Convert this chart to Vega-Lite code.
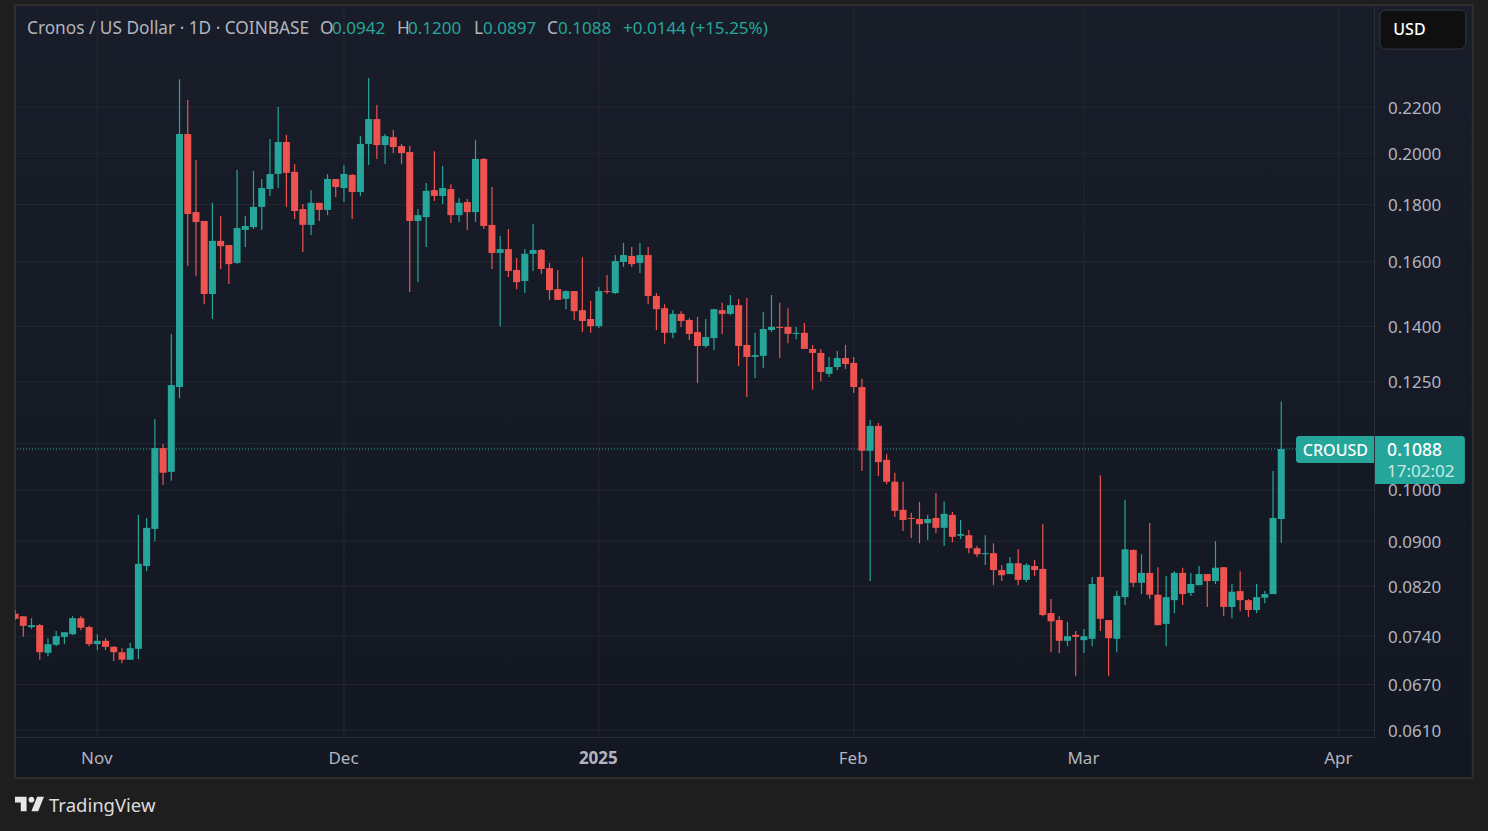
{
"$schema":"https://vega.github.io/schema/vega-lite/v6.json",
"width":1359,"height":731,"autosize":"none",
"padding":{"left":15,"top":6,"right":114,"bottom":94},
"background":"#1e1e1e",
"view":{"stroke":null},
"config":{"text":{"font":"Noto Sans","fontSize":17,"align":"left","baseline":"middle"},"axis":{"title":null}},
"datasets":{
"candles":[
{"date":"2024-10-22","open":0.0775,"high":0.0781,"low":0.0765,"close":0.0767},
{"date":"2024-10-23","open":0.0771,"high":0.0771,"low":0.0739,"close":0.0756},
{"date":"2024-10-24","open":0.0754,"high":0.0768,"low":0.0751,"close":0.0757},
{"date":"2024-10-25","open":0.0757,"high":0.0759,"low":0.0705,"close":0.0716},
{"date":"2024-10-26","open":0.0715,"high":0.0737,"low":0.0710,"close":0.0728},
{"date":"2024-10-27","open":0.0727,"high":0.0748,"low":0.0725,"close":0.0740},
{"date":"2024-10-28","open":0.0739,"high":0.0746,"low":0.0728,"close":0.0746},
{"date":"2024-10-29","open":0.0743,"high":0.0771,"low":0.0742,"close":0.0768},
{"date":"2024-10-30","open":0.0768,"high":0.0771,"low":0.0749,"close":0.0753},
{"date":"2024-10-31","open":0.0754,"high":0.0756,"low":0.0725,"close":0.0728},
{"date":"2024-11-01","open":0.0728,"high":0.0743,"low":0.0719,"close":0.0733},
{"date":"2024-11-02","open":0.0733,"high":0.0737,"low":0.0719,"close":0.0724},
{"date":"2024-11-03","open":0.0724,"high":0.0725,"low":0.0703,"close":0.0716},
{"date":"2024-11-04","open":0.0716,"high":0.0722,"low":0.0700,"close":0.0705},
{"date":"2024-11-05","open":0.0705,"high":0.0730,"low":0.0705,"close":0.0722},
{"date":"2024-11-06","open":0.0721,"high":0.0950,"low":0.0706,"close":0.0859},
{"date":"2024-11-07","open":0.0855,"high":0.0944,"low":0.0846,"close":0.0925},
{"date":"2024-11-08","open":0.0923,"high":0.1157,"low":0.0900,"close":0.1090},
{"date":"2024-11-09","open":0.1090,"high":0.1099,"low":0.1010,"close":0.1036},
{"date":"2024-11-10","open":0.1038,"high":0.1379,"low":0.1019,"close":0.1241},
{"date":"2024-11-11","open":0.1236,"high":0.2330,"low":0.1208,"close":0.2081},
{"date":"2024-11-12","open":0.2081,"high":0.2232,"low":0.1586,"close":0.1765},
{"date":"2024-11-13","open":0.1772,"high":0.1973,"low":0.1553,"close":0.1736},
{"date":"2024-11-14","open":0.1740,"high":0.1740,"low":0.1466,"close":0.1497},
{"date":"2024-11-15","open":0.1497,"high":0.1806,"low":0.1422,"close":0.1670},
{"date":"2024-11-16","open":0.1670,"high":0.1758,"low":0.1576,"close":0.1652},
{"date":"2024-11-17","open":0.1656,"high":0.1656,"low":0.1528,"close":0.1592},
{"date":"2024-11-18","open":0.1596,"high":0.1932,"low":0.1592,"close":0.1715},
{"date":"2024-11-19","open":0.1708,"high":0.1758,"low":0.1649,"close":0.1722},
{"date":"2024-11-20","open":0.1718,"high":0.1929,"low":0.1711,"close":0.1791},
{"date":"2024-11-21","open":0.1791,"high":0.1897,"low":0.1708,"close":0.1862},
{"date":"2024-11-22","open":0.1858,"high":0.2060,"low":0.1832,"close":0.1917},
{"date":"2024-11-23","open":0.1917,"high":0.2200,"low":0.1862,"close":0.2047},
{"date":"2024-11-24","open":0.2047,"high":0.2077,"low":0.1791,"close":0.1921},
{"date":"2024-11-25","open":0.1925,"high":0.1956,"low":0.1747,"close":0.1776},
{"date":"2024-11-26","open":0.1783,"high":0.1802,"low":0.1632,"close":0.1726},
{"date":"2024-11-27","open":0.1726,"high":0.1854,"low":0.1690,"close":0.1806},
{"date":"2024-11-28","open":0.1806,"high":0.1806,"low":0.1740,"close":0.1780},
{"date":"2024-11-29","open":0.1780,"high":0.1917,"low":0.1761,"close":0.1897},
{"date":"2024-11-30","open":0.1897,"high":0.1897,"low":0.1828,"close":0.1866},
{"date":"2024-12-01","open":0.1862,"high":0.1952,"low":0.1809,"close":0.1917},
{"date":"2024-12-02","open":0.1913,"high":0.1917,"low":0.1747,"close":0.1847},
{"date":"2024-12-03","open":0.1847,"high":0.2072,"low":0.1832,"close":0.2039},
{"date":"2024-12-04","open":0.2039,"high":0.2335,"low":0.1952,"close":0.2146},
{"date":"2024-12-05","open":0.2146,"high":0.2209,"low":0.1977,"close":0.2034},
{"date":"2024-12-06","open":0.2034,"high":0.2081,"low":0.1956,"close":0.2072},
{"date":"2024-12-07","open":0.2068,"high":0.2098,"low":0.2001,"close":0.2026},
{"date":"2024-12-08","open":0.2030,"high":0.2039,"low":0.1956,"close":0.2001},
{"date":"2024-12-09","open":0.2005,"high":0.2030,"low":0.1503,"close":0.1740},
{"date":"2024-12-10","open":0.1740,"high":0.1783,"low":0.1534,"close":0.1761},
{"date":"2024-12-11","open":0.1754,"high":0.1881,"low":0.1649,"close":0.1851},
{"date":"2024-12-12","open":0.1854,"high":0.2009,"low":0.1813,"close":0.1832},
{"date":"2024-12-13","open":0.1832,"high":0.1948,"low":0.1802,"close":0.1862},
{"date":"2024-12-14","open":0.1858,"high":0.1877,"low":0.1733,"close":0.1761},
{"date":"2024-12-15","open":0.1761,"high":0.1824,"low":0.1736,"close":0.1806},
{"date":"2024-12-16","open":0.1809,"high":0.1820,"low":0.1708,"close":0.1772},
{"date":"2024-12-17","open":0.1772,"high":0.2056,"low":0.1736,"close":0.1977},
{"date":"2024-12-18","open":0.1977,"high":0.1981,"low":0.1711,"close":0.1722},
{"date":"2024-12-19","open":0.1726,"high":0.1866,"low":0.1576,"close":0.1629},
{"date":"2024-12-20","open":0.1629,"high":0.1687,"low":0.1401,"close":0.1642},
{"date":"2024-12-21","open":0.1642,"high":0.1711,"low":0.1550,"close":0.1570},
{"date":"2024-12-22","open":0.1573,"high":0.1612,"low":0.1512,"close":0.1534},
{"date":"2024-12-23","open":0.1538,"high":0.1642,"low":0.1500,"close":0.1626},
{"date":"2024-12-24","open":0.1626,"high":0.1729,"low":0.1570,"close":0.1639},
{"date":"2024-12-25","open":0.1639,"high":0.1642,"low":0.1560,"close":0.1576},
{"date":"2024-12-26","open":0.1579,"high":0.1596,"low":0.1479,"close":0.1509},
{"date":"2024-12-27","open":0.1512,"high":0.1573,"low":0.1479,"close":0.1479},
{"date":"2024-12-28","open":0.1482,"high":0.1509,"low":0.1451,"close":0.1506},
{"date":"2024-12-29","open":0.1506,"high":0.1506,"low":0.1419,"close":0.1445},
{"date":"2024-12-30","open":0.1448,"high":0.1615,"low":0.1384,"close":0.1416},
{"date":"2024-12-31","open":0.1422,"high":0.1476,"low":0.1382,"close":0.1401},
{"date":"2025-01-01","open":0.1401,"high":0.1519,"low":0.1396,"close":0.1506},
{"date":"2025-01-02","open":0.1506,"high":0.1557,"low":0.1497,"close":0.1503},
{"date":"2025-01-03","open":0.1500,"high":0.1622,"low":0.1497,"close":0.1602},
{"date":"2025-01-04","open":0.1599,"high":0.1663,"low":0.1583,"close":0.1622},
{"date":"2025-01-05","open":0.1619,"high":0.1649,"low":0.1583,"close":0.1592},
{"date":"2025-01-06","open":0.1596,"high":0.1663,"low":0.1563,"close":0.1622},
{"date":"2025-01-07","open":0.1622,"high":0.1649,"low":0.1466,"close":0.1491},
{"date":"2025-01-08","open":0.1491,"high":0.1500,"low":0.1390,"close":0.1451},
{"date":"2025-01-09","open":0.1454,"high":0.1466,"low":0.1351,"close":0.1382},
{"date":"2025-01-10","open":0.1382,"high":0.1448,"low":0.1367,"close":0.1437},
{"date":"2025-01-11","open":0.1437,"high":0.1445,"low":0.1399,"close":0.1416},
{"date":"2025-01-12","open":0.1419,"high":0.1425,"low":0.1362,"close":0.1379},
{"date":"2025-01-13","open":0.1384,"high":0.1428,"low":0.1246,"close":0.1345},
{"date":"2025-01-14","open":0.1345,"high":0.1422,"low":0.1340,"close":0.1370},
{"date":"2025-01-15","open":0.1367,"high":0.1451,"low":0.1334,"close":0.1451},
{"date":"2025-01-16","open":0.1448,"high":0.1470,"low":0.1379,"close":0.1437},
{"date":"2025-01-17","open":0.1437,"high":0.1494,"low":0.1434,"close":0.1463},
{"date":"2025-01-18","open":0.1463,"high":0.1482,"low":0.1291,"close":0.1345},
{"date":"2025-01-19","open":0.1348,"high":0.1485,"low":0.1211,"close":0.1315},
{"date":"2025-01-20","open":0.1315,"high":0.1382,"low":0.1259,"close":0.1320},
{"date":"2025-01-21","open":0.1318,"high":0.1443,"low":0.1285,"close":0.1393},
{"date":"2025-01-22","open":0.1390,"high":0.1494,"low":0.1384,"close":0.1399},
{"date":"2025-01-23","open":0.1399,"high":0.1470,"low":0.1312,"close":0.1396},
{"date":"2025-01-24","open":0.1399,"high":0.1454,"low":0.1353,"close":0.1379},
{"date":"2025-01-25","open":0.1379,"high":0.1399,"low":0.1364,"close":0.1382},
{"date":"2025-01-26","open":0.1382,"high":0.1410,"low":0.1337,"close":0.1337},
{"date":"2025-01-27","open":0.1337,"high":0.1348,"low":0.1229,"close":0.1326},
{"date":"2025-01-28","open":0.1326,"high":0.1337,"low":0.1251,"close":0.1275},
{"date":"2025-01-29","open":0.1270,"high":0.1315,"low":0.1262,"close":0.1288},
{"date":"2025-01-30","open":0.1288,"high":0.1331,"low":0.1280,"close":0.1312},
{"date":"2025-01-31","open":0.1312,"high":0.1348,"low":0.1283,"close":0.1296},
{"date":"2025-02-01","open":0.1299,"high":0.1315,"low":0.1221,"close":0.1236},
{"date":"2025-02-02","open":0.1236,"high":0.1257,"low":0.1040,"close":0.1084},
{"date":"2025-02-03","open":0.1084,"high":0.1155,"low":0.0829,"close":0.1141},
{"date":"2025-02-04","open":0.1141,"high":0.1148,"low":0.1029,"close":0.1059},
{"date":"2025-02-05","open":0.1064,"high":0.1077,"low":0.1012,"close":0.1017},
{"date":"2025-02-06","open":0.1017,"high":0.1036,"low":0.0946,"close":0.0958},
{"date":"2025-02-07","open":0.0960,"high":0.1017,"low":0.0919,"close":0.0940},
{"date":"2025-02-08","open":0.0944,"high":0.0954,"low":0.0906,"close":0.0942},
{"date":"2025-02-09","open":0.0942,"high":0.0976,"low":0.0896,"close":0.0932},
{"date":"2025-02-10","open":0.0934,"high":0.0950,"low":0.0902,"close":0.0942},
{"date":"2025-02-11","open":0.0944,"high":0.0994,"low":0.0915,"close":0.0925},
{"date":"2025-02-12","open":0.0925,"high":0.0976,"low":0.0891,"close":0.0952},
{"date":"2025-02-13","open":0.0950,"high":0.0956,"low":0.0898,"close":0.0908},
{"date":"2025-02-14","open":0.0910,"high":0.0940,"low":0.0904,"close":0.0913},
{"date":"2025-02-15","open":0.0911,"high":0.0921,"low":0.0878,"close":0.0887},
{"date":"2025-02-16","open":0.0887,"high":0.0891,"low":0.0871,"close":0.0876},
{"date":"2025-02-17","open":0.0876,"high":0.0911,"low":0.0857,"close":0.0878},
{"date":"2025-02-18","open":0.0878,"high":0.0896,"low":0.0822,"close":0.0848},
{"date":"2025-02-19","open":0.0848,"high":0.0857,"low":0.0829,"close":0.0839},
{"date":"2025-02-20","open":0.0841,"high":0.0871,"low":0.0841,"close":0.0860},
{"date":"2025-02-21","open":0.0860,"high":0.0885,"low":0.0822,"close":0.0831},
{"date":"2025-02-22","open":0.0831,"high":0.0860,"low":0.0827,"close":0.0857},
{"date":"2025-02-23","open":0.0855,"high":0.0866,"low":0.0838,"close":0.0848},
{"date":"2025-02-24","open":0.0850,"high":0.0932,"low":0.0771,"close":0.0773},
{"date":"2025-02-25","open":0.0776,"high":0.0799,"low":0.0716,"close":0.0763},
{"date":"2025-02-26","open":0.0765,"high":0.0771,"low":0.0715,"close":0.0733},
{"date":"2025-02-27","open":0.0733,"high":0.0762,"low":0.0725,"close":0.0740},
{"date":"2025-02-28","open":0.0742,"high":0.0748,"low":0.0682,"close":0.0739},
{"date":"2025-03-01","open":0.0734,"high":0.0751,"low":0.0715,"close":0.0740},
{"date":"2025-03-02","open":0.0736,"high":0.0836,"low":0.0725,"close":0.0824},
{"date":"2025-03-03","open":0.0836,"high":0.1031,"low":0.0748,"close":0.0767},
{"date":"2025-03-04","open":0.0765,"high":0.0765,"low":0.0682,"close":0.0737},
{"date":"2025-03-05","open":0.0736,"high":0.0812,"low":0.0716,"close":0.0804},
{"date":"2025-03-06","open":0.0802,"high":0.0980,"low":0.0789,"close":0.0885},
{"date":"2025-03-07","open":0.0884,"high":0.0884,"low":0.0819,"close":0.0826},
{"date":"2025-03-08","open":0.0826,"high":0.0876,"low":0.0807,"close":0.0843},
{"date":"2025-03-09","open":0.0843,"high":0.0934,"low":0.0799,"close":0.0806},
{"date":"2025-03-10","open":0.0806,"high":0.0853,"low":0.0757,"close":0.0757},
{"date":"2025-03-11","open":0.0759,"high":0.0838,"low":0.0725,"close":0.0802},
{"date":"2025-03-12","open":0.0797,"high":0.0846,"low":0.0776,"close":0.0843},
{"date":"2025-03-13","open":0.0843,"high":0.0852,"low":0.0789,"close":0.0807},
{"date":"2025-03-14","open":0.0809,"high":0.0843,"low":0.0804,"close":0.0824},
{"date":"2025-03-15","open":0.0822,"high":0.0855,"low":0.0822,"close":0.0841},
{"date":"2025-03-16","open":0.0841,"high":0.0841,"low":0.0786,"close":0.0829},
{"date":"2025-03-17","open":0.0829,"high":0.0900,"low":0.0824,"close":0.0852},
{"date":"2025-03-18","open":0.0853,"high":0.0853,"low":0.0771,"close":0.0786},
{"date":"2025-03-19","open":0.0786,"high":0.0824,"low":0.0768,"close":0.0811},
{"date":"2025-03-20","open":0.0812,"high":0.0846,"low":0.0779,"close":0.0797},
{"date":"2025-03-21","open":0.0797,"high":0.0799,"low":0.0770,"close":0.0781},
{"date":"2025-03-22","open":0.0781,"high":0.0824,"low":0.0776,"close":0.0802},
{"date":"2025-03-23","open":0.0801,"high":0.0812,"low":0.0792,"close":0.0807},
{"date":"2025-03-24","open":0.0807,"high":0.1040,"low":0.0807,"close":0.0944},
{"date":"2025-03-25","open":0.0942,"high":0.1200,"low":0.0897,"close":0.1088}
],
"gridPrices":[{"price":0.22},{"price":0.2},{"price":0.18},{"price":0.16},{"price":0.14},{"price":0.125},{"price":0.11},{"price":0.1},{"price":0.09},{"price":0.082},{"price":0.074},{"price":0.067},{"price":0.061}],
"gridDates":[{"date":"2024-11-01"},{"date":"2024-12-01"},{"date":"2025-01-01"},{"date":"2025-02-01"},{"date":"2025-03-01"},{"date":"2025-04-01"}],
"headerGrey":[
{"label":"Cronos / US Dollar · 1D · COINBASE","date":"2024-10-23T10:48:00Z","price":0.2583},
{"label":"O","date":"2024-11-28T02:00:00Z","price":0.2583},
{"label":"H","date":"2024-12-07T11:00:00Z","price":0.2583},
{"label":"L","date":"2024-12-16T19:30:00Z","price":0.2583},
{"label":"C","date":"2024-12-25T16:30:00Z","price":0.2583}
],
"headerTeal":[
{"label":"0.0942","date":"2024-11-29T13:00:00Z","price":0.2583},
{"label":"0.1200","date":"2024-12-08T19:00:00Z","price":0.2583},
{"label":"0.0897","date":"2024-12-17T22:00:00Z","price":0.2583},
{"label":"0.1088","date":"2024-12-27T00:40:00Z","price":0.2583},
{"label":"+0.0144 (+15.25%)","date":"2025-01-03T22:30:00Z","price":0.2583}
],
"whiteText":[
{"label":"0.1088","date":"2025-04-06T21:00:00Z","price":0.1084}
],
"tagText":[
{"label":"USD","date":"2025-04-07T15:00:00Z","price":0.2578},
{"label":"CROUSD","date":"2025-03-27T15:00:00Z","price":0.1084}
]
},
"layer":[
{"data":{"values":[{"date":"2024-10-21T23:46:00Z","date2":"2025-04-17T07:00:00Z","price":0.2714,"price2":0.05526}]},
 "mark":{"type":"rect","stroke":"#2e2e2e","strokeWidth":2,"color":{"gradient":"linear","x1":0,"y1":0,"x2":0,"y2":1,"stops":[{"offset":0,"color":"#191d29"},{"offset":1,"color":"#131722"}]}},
 "encoding":{
  "x":{"field":"date","type":"temporal","scale":{"type":"utc","padding":0,"domain":[{"year":2024,"month":10,"date":21,"hours":23,"minutes":46,"utc":true},{"year":2025,"month":4,"date":5,"hours":6,"minutes":43,"utc":true}]}},
  "x2":{"field":"date2"},
  "y":{"field":"price","type":"quantitative","scale":{"type":"log","domain":[0.06013,0.27087],"nice":false,"zero":false}},
  "y2":{"field":"price2"}}},
{"data":{"name":"gridPrices"},"mark":{"type":"rule","color":"#242833","strokeWidth":1},
 "encoding":{"y":{"field":"price","type":"quantitative"}}},
{"data":{"name":"gridDates"},"mark":{"type":"rule","color":"#242833","strokeWidth":1},
 "encoding":{"x":{"field":"date","type":"temporal"}}},
{"data":{"values":[{"price":0.1088}]},"mark":{"type":"rule","color":"#26a69a","strokeWidth":1,"strokeDash":[1,2]},
 "encoding":{"y":{"field":"price","type":"quantitative"}}},
{"data":{"name":"candles"},"mark":{"type":"rule","strokeWidth":1.2,"clip":true},
 "encoding":{
  "x":{"field":"date","type":"temporal",
   "axis":{"title":null,"orient":"bottom","zindex":1,"grid":false,"tickSize":0,"domainColor":"#2a2e39","domainWidth":1,"labelPadding":13,"labelOffset":-1,
    "labelFont":"Noto Sans","labelFontSize":17,"labelColor":"#b2b5be","labelOverlap":false,"labelBound":false,
    "values":[{"year":2024,"month":11,"date":1,"utc":true},{"year":2024,"month":12,"date":1,"utc":true},{"year":2025,"month":1,"date":1,"utc":true},{"year":2025,"month":2,"date":1,"utc":true},{"year":2025,"month":3,"date":1,"utc":true},{"year":2025,"month":4,"date":1,"utc":true}],
    "labelExpr":"utcmonth(datum.value)==0 ? utcFormat(datum.value,'%Y') : utcFormat(datum.value,'%b')",
    "labelFontWeight":{"condition":{"test":"utcmonth(datum.value)==0","value":"bold"},"value":"normal"}}},
  "y":{"field":"low","type":"quantitative",
   "axis":{"title":null,"orient":"right","zindex":1,"grid":false,"tickSize":0,"domainColor":"#2a2e39","domainWidth":1,"labelPadding":13.5,"labelOffset":1,
    "labelFont":"Noto Sans","labelFontSize":17,"labelColor":"#b2b5be","labelOverlap":false,"labelBound":false,"format":".4f",
    "values":[0.22,0.2,0.18,0.16,0.14,0.125,0.1,0.09,0.082,0.074,0.067,0.061]}},
  "y2":{"field":"high"},
  "color":{"condition":{"test":"datum.close >= datum.open","value":"#26a69a"},"value":"#ef5350"}}},
{"data":{"name":"candles"},"mark":{"type":"bar","width":7,"clip":true},
 "encoding":{
  "x":{"field":"date","type":"temporal"},
  "y":{"field":"open","type":"quantitative"},
  "y2":{"field":"close"},
  "color":{"condition":{"test":"datum.close >= datum.open","value":"#26a69a"},"value":"#ef5350"}}},
{"data":{"values":[{"date":"2025-04-06T00:00:00Z","date2":"2025-04-16T11:00:00Z","price":0.2686,"price2":0.2479}]},
 "mark":{"type":"rect","fill":"#0f0f0f","stroke":"#363a45","strokeWidth":1,"cornerRadius":6},
 "encoding":{"x":{"field":"date","type":"temporal"},"x2":{"field":"date2"},"y":{"field":"price","type":"quantitative"},"y2":{"field":"price2"}}},
{"data":{"values":[{"date":"2025-03-26T19:00:00Z","date2":"2025-04-05T06:43:00Z","price":0.11174,"price2":0.10571}]},
 "mark":{"type":"rect","fill":"#26a69a","cornerRadiusTopLeft":3,"cornerRadiusBottomLeft":3},
 "encoding":{"x":{"field":"date","type":"temporal"},"x2":{"field":"date2"},"y":{"field":"price","type":"quantitative"},"y2":{"field":"price2"}}},
{"data":{"values":[{"date":"2025-04-05T09:30:00Z","date2":"2025-04-16T08:00:00Z","price":0.11174,"price2":0.10122}]},
 "mark":{"type":"rect","fill":"#26a69a","cornerRadiusTopRight":3,"cornerRadiusBottomRight":3},
 "encoding":{"x":{"field":"date","type":"temporal"},"x2":{"field":"date2"},"y":{"field":"price","type":"quantitative"},"y2":{"field":"price2"}}},
{"data":{"name":"headerGrey"},"mark":{"type":"text","color":"#b2b5be","fontSize":17.25},
 "encoding":{"x":{"field":"date","type":"temporal"},"y":{"field":"price","type":"quantitative"},"text":{"field":"label"}}},
{"data":{"name":"headerTeal"},"mark":{"type":"text","color":"#26a69a"},
 "encoding":{"x":{"field":"date","type":"temporal"},"y":{"field":"price","type":"quantitative"},"text":{"field":"label"}}},
{"data":{"name":"whiteText"},"mark":{"type":"text","color":"#ffffff","fontSize":17.5,"fontWeight":500},
 "encoding":{"x":{"field":"date","type":"temporal"},"y":{"field":"price","type":"quantitative"},"text":{"field":"label"}}},
{"data":{"name":"tagText"},"mark":{"type":"text","color":"#ffffff","fontSize":16,"fontWeight":500},
 "encoding":{"x":{"field":"date","type":"temporal"},"y":{"field":"price","type":"quantitative"},"text":{"field":"label"}}},
{"data":{"values":[{"label":"17:02:02","date":"2025-04-06T21:00:00Z","price":0.1038}]},"mark":{"type":"text","color":"#c9e9e6"},
 "encoding":{"x":{"field":"date","type":"temporal"},"y":{"field":"price","type":"quantitative"},"text":{"field":"label"}}},
{"data":{"values":[{"label":"TradingView","date":"2024-10-26T03:00:00Z","price":0.05217}]},"mark":{"type":"text","color":"#dcdcdc","fontSize":18.5},
 "encoding":{"x":{"field":"date","type":"temporal"},"y":{"field":"price","type":"quantitative"},"text":{"field":"label"}}},
{"data":{"values":[{"date":"2024-10-23T18:00:00Z","price":0.05238}]},
 "mark":{"type":"point","filled":true,"opacity":1,"color":"#e6e6e6","size":841,"shape":"M-0.2-0.5H-1V-0.1H-0.6V0.5H-0.2ZM0.6 0.5H0.133L0.533-0.5H1ZM0.133-0.1A0.2 0.2 0 1 0 0.133-0.5A0.2 0.2 0 0 0 0.133-0.1Z"},
 "encoding":{"x":{"field":"date","type":"temporal"},"y":{"field":"price","type":"quantitative"}}}
]
}
